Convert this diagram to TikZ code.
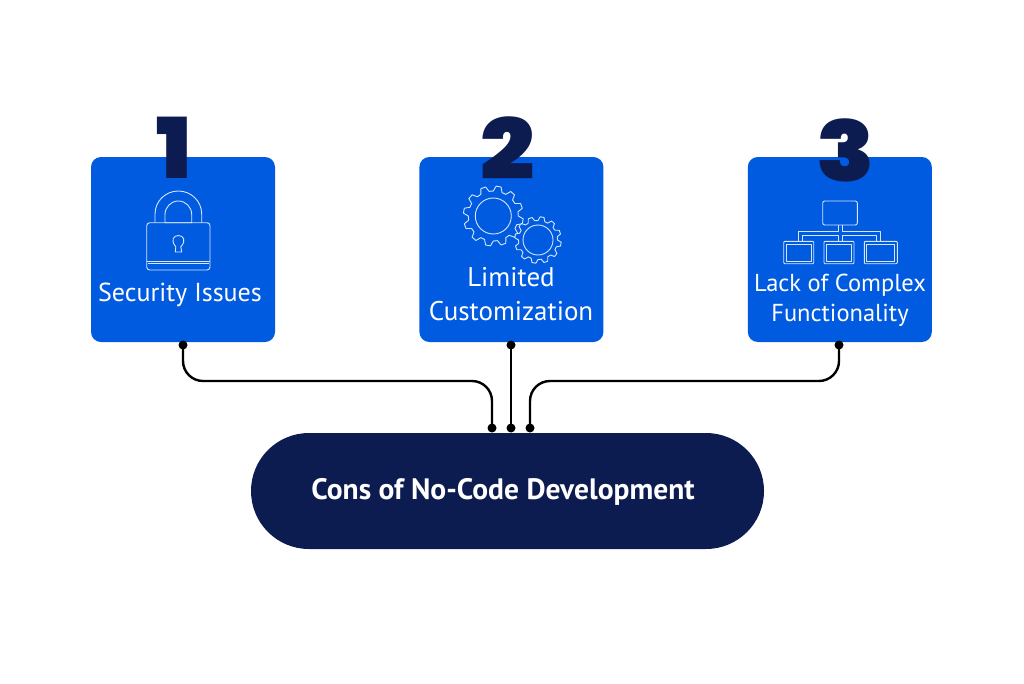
\documentclass[tikz,border=0pt]{standalone}
\usepackage{fontspec}
\setmainfont{PT Sans}
\newfontfamily\digitfont{Poppins Black}
\newfontfamily\titlefont{PT Sans}
\usetikzlibrary{%
	positioning,
	calc,
	shapes.misc
}
\definecolor{boxblue}{HTML}{005BE0}
\definecolor{navy}{HTML}{0C1B50}
\newcommand{\gearpath}[5]{%
	% centre x, centre y, outer radius, root radius, teeth
	\draw [icon, fill=boxblue, shift={(#1,#2)}] (0:#4) \foreach \t [evaluate=\t as \a using \t*360/#5] in {1,...,#5} {
		-- (\a-360/#5:#4) -- (\a-360/#5*.82:#3) -- (\a-360/#5*.5:#3) -- (\a-360/#5*.32:#4)
	} -- cycle;
}

\begin{document}
\begin{tikzpicture}[
		x=1pt,y=-1pt,
		SBox/.style={fill=boxblue,rounded corners=10pt,minimum width=184pt,minimum height=185pt,inner sep=0pt},
		SLabel/.style={text=white,align=center,font=\fontsize{26}{34}\selectfont,inner sep=0pt},
		digit/.style={text=navy,font=\digitfont\fontsize{84}{84}\selectfont,inner sep=0pt},
		pill/.style={shape=rounded rectangle,fill=navy,minimum width=513pt,minimum height=116pt,inner sep=0pt},
		title/.style={text=white,inner sep=0pt,font=\titlefont\bfseries\fontsize{29.5}{32}\selectfont},
		dot/.style={circle,fill=black,minimum size=9pt,inner sep=0pt},
		wire/.style={draw=black,line width=2.4pt,rounded corners=20pt},
		icon/.style={draw=white!85!boxblue,line width=.9pt,line join=round}
	]
	\useasboundingbox (0,0) rectangle (1024,683);
	
		\node(box1) [SBox] at (183,249.5) {};
		\node(box2) [SBox, right=144pt of box1] {};
		\node(box3) [SBox, right=144pt of box2] {};
		\node(pill) [pill] at (507.5,491) {};
		\node(title) [title] at (503,492) {Cons of No-Code Development};
		
		\node(num1) [digit] at (174,148) {\scalebox{1.05}[1]{1}};
		\node(num2) [digit] at (507.5,148.5) {\scalebox{1.14}[1]{2}};
		\node(num3) [digit] at (846,150) {\scalebox{1.13}[1]{3}};
		
		\node(label1) [SLabel] at (180,295) {Security Issues};
		\node(label2) [SLabel, font=\fontsize{27}{34}\selectfont] at (511,294) {Limited\\Customization};
		\node(label3) [SLabel, font=\fontsize{24.5}{30}\selectfont] at (840,300) {Lack of Complex\\Functionality};
		
		%connectors
		\node(top1) [dot] at (183,345) {};
		\node(top2) [dot] at (511,345) {};
		\node(top3) [dot] at (839,345) {};
		\node(bot1) [dot] at (492,428) {};
		\node(bot2) [dot] at (511,428) {};
		\node(bot3) [dot] at (530,428) {};
		\coordinate(bus) at (511,381);
		\draw [wire] (top1.center) |- (bot1 |- bus) -- (bot1.center);
		\draw [wire] (top2.center) -- (bot2.center);
		\draw [wire] (top3.center) |- (bot3 |- bus) -- (bot3.center);
		
		%lock
		\draw [icon, rounded corners=3pt] (146.7,222.7) rectangle (210,270);
		\draw [icon] (146.7,261) -- (210,261);
		\draw [icon] (147.5,263.7) -- (209,263.7);
		\draw [icon] (155,222.7) -- (155,214) arc[start angle=180,end angle=360,x radius=23.35,y radius=23] -- (201.7,222.7);
		\draw [icon] (165,222.7) -- (165,214.5) arc[start angle=180,end angle=360,x radius=13.35,y radius=13.5] -- (191.7,222.7) -- cycle;
		\draw [icon] (175.3,252) -- (175.8,246.8) .. controls (170,240) and (174,235.5) .. (178.3,235.5) .. controls (183,235.5) and (187,240) .. (180.8,246.8) -- (181.7,252) -- cycle;
		
		%gears
		\gearpath{493.3}{216}{30}{25}{12}
		\draw [icon] (493.3,216) circle[radius=18];
		\gearpath{538}{240}{23.3}{19.5}{12}
		\draw [icon] (538,240) circle[radius=15];
		
		%chart
		\draw [icon, rounded corners=2pt] (822.7,201) rectangle (857.3,225);
		\draw [icon] (838.5,225) -- (838.5,231.7) -- (798,231.7) -- (798,241.3);
		\draw [icon] (842,225) -- (842,231.7) -- (880.7,231.7) -- (880.7,241.3);
		\draw [icon] (802.7,241.3) -- (802.7,235.7) -- (838.5,235.7) -- (838.5,241.3);
		\draw [icon] (876.7,241.3) -- (876.7,235.7) -- (842,235.7) -- (842,241.3);
		\foreach \xa/\xb in {783.7/813.7,824/854,864.3/897.3} {
			\draw [icon, rounded corners=1pt] (\xa,241.3) rectangle (\xb,263.7);
			\draw [icon] (\xa+2.5,244) rectangle (\xb-2.5,261);
		}
		
	\end{tikzpicture}
\end{document}
